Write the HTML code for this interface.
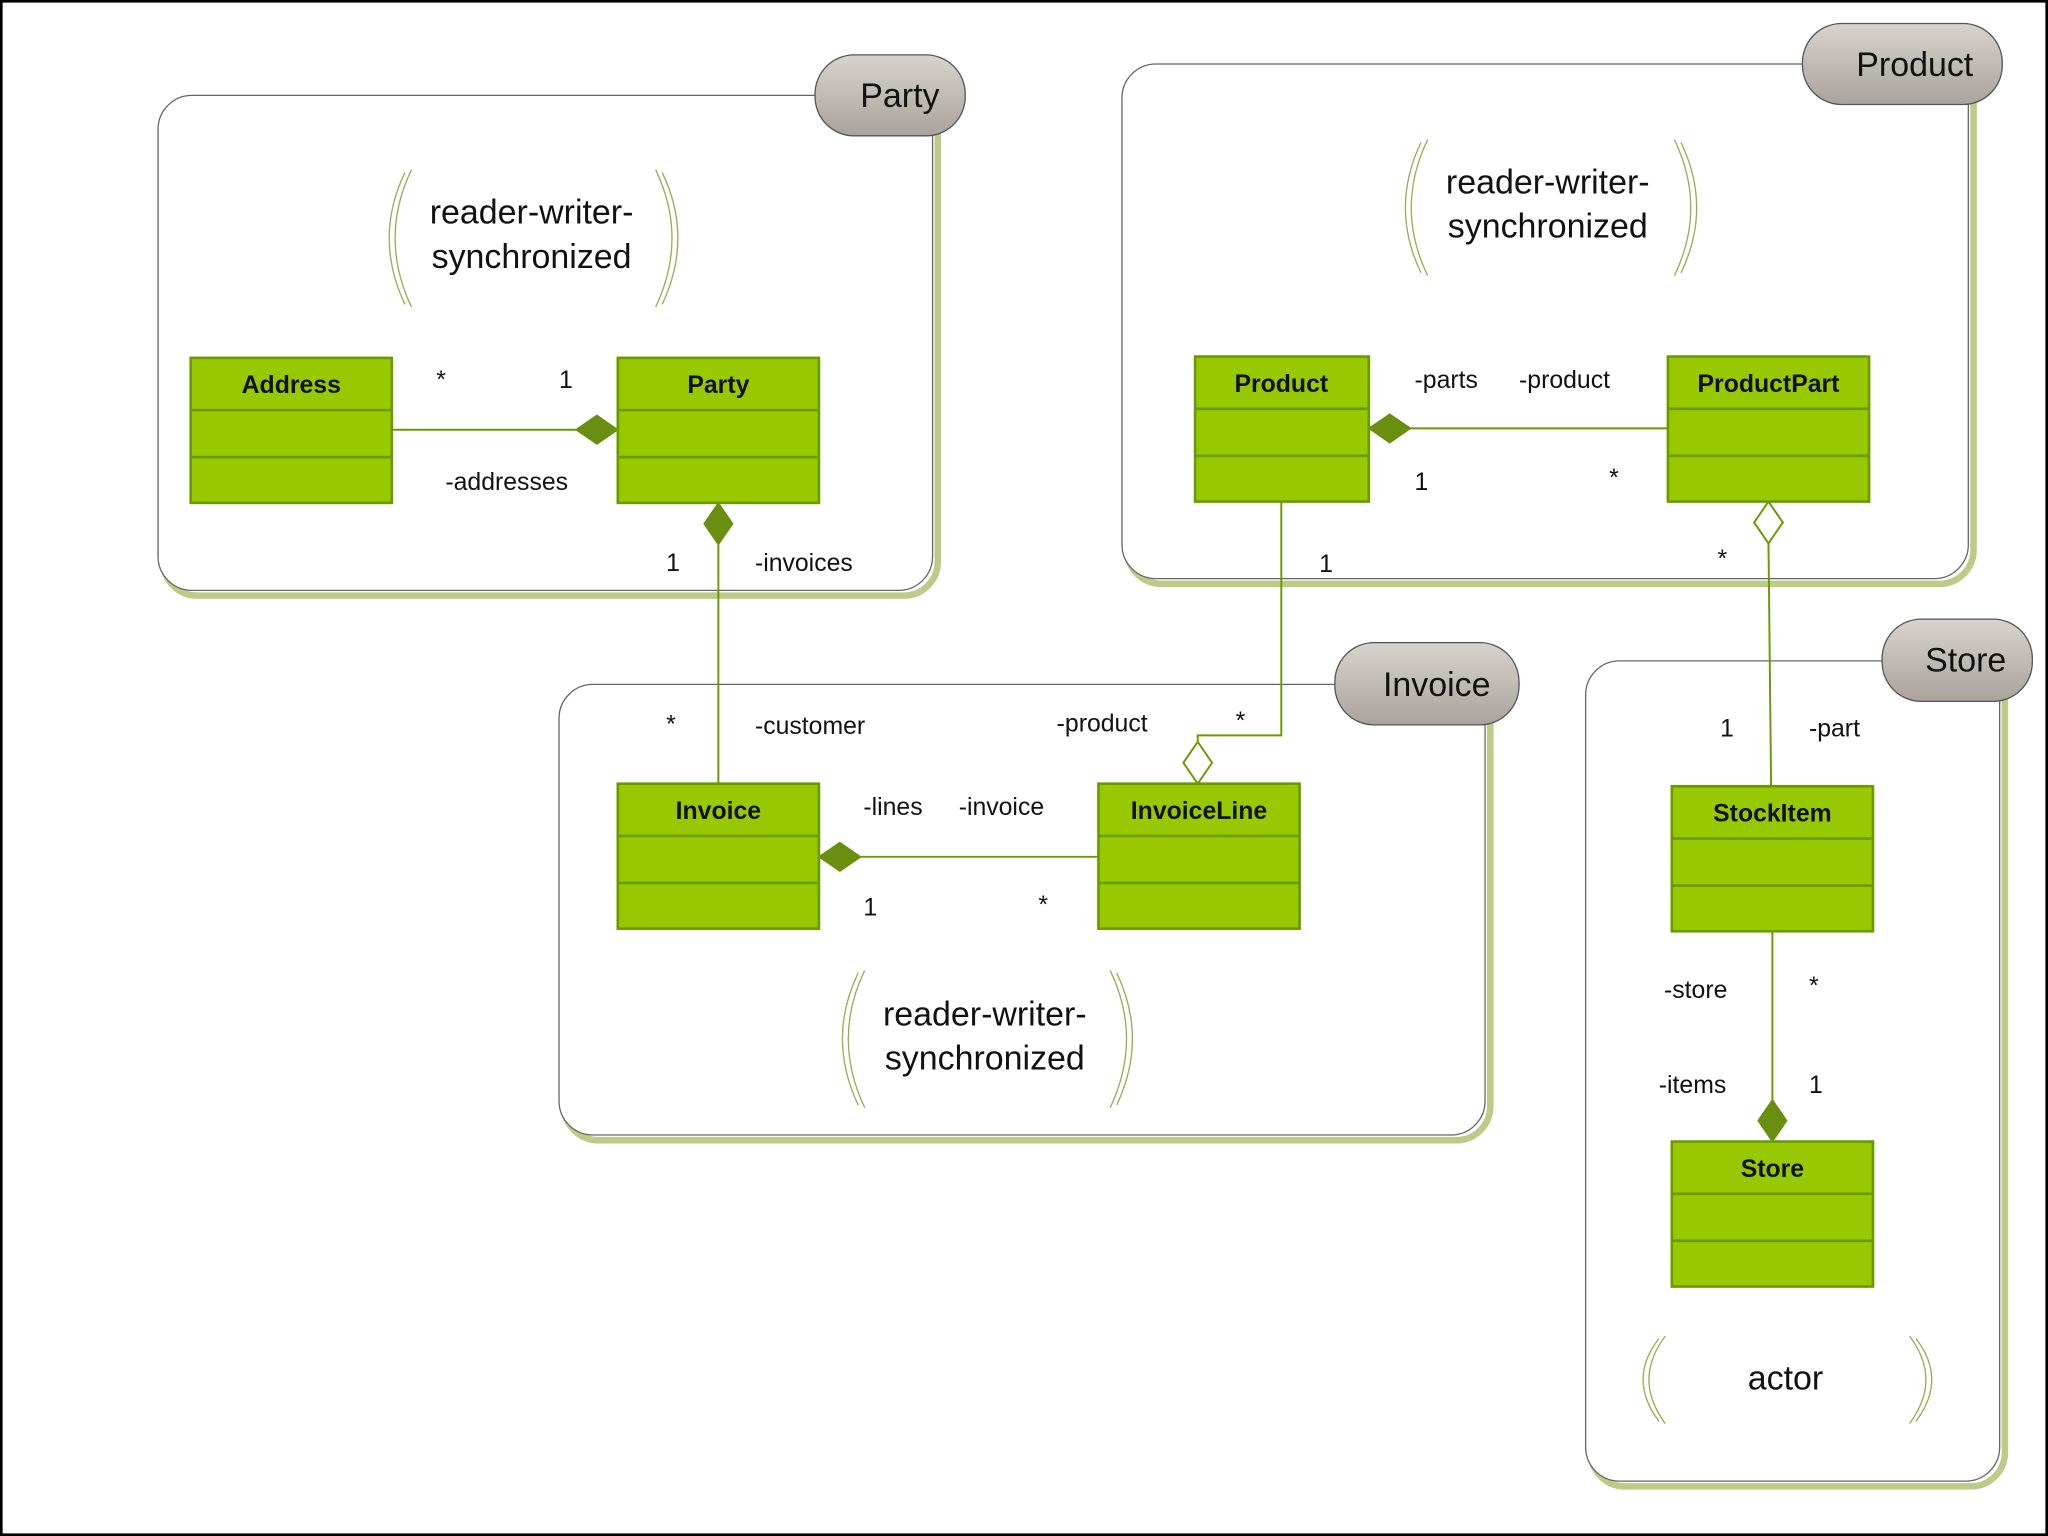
<!DOCTYPE html>
<html><head><meta charset="utf-8"><style>
html,body{margin:0;padding:0;background:#fff}
svg{display:block}
text{font-family:"Liberation Sans",sans-serif}
.lbl{font-size:19px;fill:#111}
.big{font-size:26px;fill:#111}
.cls{font-size:19px;font-weight:bold;fill:#111}
</style></head><body>
<svg width="2048" height="1536" viewBox="0 0 1568 1176" xmlns="http://www.w3.org/2000/svg">
<defs>
<linearGradient id="tg" x1="0" y1="0" x2="0" y2="1"><stop offset="0" stop-color="#d8d3cd"/><stop offset="1" stop-color="#a9a39c"/></linearGradient>
</defs>
<rect x="1" y="1" width="1566" height="1174" fill="#fff" stroke="#000" stroke-width="2"/>

<!-- packages: shadow then frame -->
<g fill="none">
<rect x="125" y="77" width="593" height="379" rx="26" stroke="#bccb86" stroke-width="5"/>
<rect x="121" y="73" width="593" height="379" rx="26" fill="#fff" stroke="#666" stroke-width="1"/>
<rect x="863" y="53" width="648" height="394" rx="26" stroke="#bccb86" stroke-width="5"/>
<rect x="859" y="49" width="648" height="394" rx="26" fill="#fff" stroke="#666" stroke-width="1"/>
<rect x="432" y="528" width="709" height="345" rx="26" stroke="#bccb86" stroke-width="5"/>
<rect x="428" y="524" width="709" height="345" rx="26" fill="#fff" stroke="#666" stroke-width="1"/>
<rect x="1218" y="510" width="317" height="628" rx="26" stroke="#bccb86" stroke-width="5"/>
<rect x="1214" y="506" width="317" height="628" rx="26" fill="#fff" stroke="#666" stroke-width="1"/>
</g>
<!-- tabs -->
<rect x="624" y="42" width="115" height="62" rx="30" fill="url(#tg)" stroke="#555"/>
<text x="689" y="82" class="big" text-anchor="middle">Party</text>
<rect x="1380" y="18" width="153" height="62" rx="30" fill="url(#tg)" stroke="#555"/>
<text x="1466" y="58" class="big" text-anchor="middle">Product</text>
<rect x="1022" y="492" width="141" height="63" rx="30" fill="url(#tg)" stroke="#555"/>
<text x="1100" y="533" class="big" text-anchor="middle">Invoice</text>
<rect x="1441" y="474" width="115" height="63" rx="30" fill="url(#tg)" stroke="#555"/>
<text x="1505" y="514" class="big" text-anchor="middle">Store</text>

<!-- brackets -->
<g fill="none" stroke="#9aaa55" stroke-width="1">
<path d="M315 130 Q290 182 315 235"/><path d="M310 132 Q286 182 310 233"/>
<path d="M502 130 Q527 182 502 235"/><path d="M507 132 Q531 182 507 233"/>
<path d="M1093 107 Q1068 159 1093 211"/><path d="M1088 109 Q1064 159 1088 209"/>
<path d="M1282 107 Q1307 159 1282 211"/><path d="M1287 109 Q1311 159 1287 209"/>
<path d="M662 743 Q637 795 662 848"/><path d="M657 745 Q633 795 657 846"/>
<path d="M850 743 Q875 795 850 848"/><path d="M855 745 Q879 795 855 846"/>
<path d="M1275 1023 Q1250 1056 1275 1090"/><path d="M1270 1025 Q1246 1056 1270 1088"/>
<path d="M1462 1023 Q1487 1056 1462 1090"/><path d="M1467 1025 Q1491 1056 1467 1088"/>
</g>
<text x="407" y="171" class="big" text-anchor="middle">reader-writer-</text>
<text x="407" y="205" class="big" text-anchor="middle">synchronized</text>
<text x="1185" y="148" class="big" text-anchor="middle">reader-writer-</text>
<text x="1185" y="182" class="big" text-anchor="middle">synchronized</text>
<text x="754" y="785" class="big" text-anchor="middle">reader-writer-</text>
<text x="754" y="819" class="big" text-anchor="middle">synchronized</text>
<text x="1367" y="1064" class="big" text-anchor="middle">actor</text>

<!-- connectors -->
<g stroke="#6a9a00" stroke-width="1.5" fill="none">
<line x1="300" y1="329" x2="441" y2="329"/>
<line x1="550" y1="417" x2="550" y2="600"/>
<line x1="1080" y1="328" x2="1277" y2="328"/>
<polyline points="981,384 981,563 917,563 917,568"/>
<line x1="1354" y1="416" x2="1356" y2="602"/>
<line x1="659" y1="656" x2="841" y2="656"/>
<line x1="1357" y1="713" x2="1357" y2="842"/>
</g>
<g fill="#6a8f10" stroke="#6a8f10">
<polygon points="441,329 457,318 473,329 457,340"/>
<polygon points="550,385 561,401 550,417 539,401"/>
<polygon points="1048,328 1064,317 1080,328 1064,339"/>
<polygon points="627,656 643,645 659,656 643,667"/>
<polygon points="1357,842 1368,858 1357,874 1346,858"/>
</g>
<g fill="#fff" stroke="#6a9a00" stroke-width="1.5">
<polygon points="917,568 928,584 917,600 906,584"/>
<polygon points="1354,384 1365,400 1354,416 1343,400"/>
</g>

<!-- classes -->
<g fill="#97c800" stroke="#6a9a00" stroke-width="2">
<rect x="146" y="274" width="154" height="111"/><line x1="146" y1="314" x2="300" y2="314"/><line x1="146" y1="350" x2="300" y2="350"/>
<rect x="473" y="274" width="154" height="111"/><line x1="473" y1="314" x2="627" y2="314"/><line x1="473" y1="350" x2="627" y2="350"/>
<rect x="915" y="273" width="133" height="111"/><line x1="915" y1="313" x2="1048" y2="313"/><line x1="915" y1="349" x2="1048" y2="349"/>
<rect x="1277" y="273" width="154" height="111"/><line x1="1277" y1="313" x2="1431" y2="313"/><line x1="1277" y1="349" x2="1431" y2="349"/>
<rect x="473" y="600" width="154" height="111"/><line x1="473" y1="640" x2="627" y2="640"/><line x1="473" y1="676" x2="627" y2="676"/>
<rect x="841" y="600" width="154" height="111"/><line x1="841" y1="640" x2="995" y2="640"/><line x1="841" y1="676" x2="995" y2="676"/>
<rect x="1280" y="602" width="154" height="111"/><line x1="1280" y1="642" x2="1434" y2="642"/><line x1="1280" y1="678" x2="1434" y2="678"/>
<rect x="1280" y="874" width="154" height="111"/><line x1="1280" y1="914" x2="1434" y2="914"/><line x1="1280" y1="950" x2="1434" y2="950"/>
</g>
<text x="223" y="301" class="cls" text-anchor="middle">Address</text>
<text x="550" y="301" class="cls" text-anchor="middle">Party</text>
<text x="981" y="300" class="cls" text-anchor="middle">Product</text>
<text x="1354" y="300" class="cls" text-anchor="middle">ProductPart</text>
<text x="550" y="627" class="cls" text-anchor="middle">Invoice</text>
<text x="918" y="627" class="cls" text-anchor="middle">InvoiceLine</text>
<text x="1357" y="629" class="cls" text-anchor="middle">StockItem</text>
<text x="1357" y="901" class="cls" text-anchor="middle">Store</text>

<!-- labels -->
<text x="334" y="297" class="lbl">*</text>
<text x="428" y="297" class="lbl">1</text>
<text x="341" y="375" class="lbl">-addresses</text>
<text x="510" y="437" class="lbl">1</text>
<text x="578" y="437" class="lbl">-invoices</text>
<text x="510" y="561" class="lbl">*</text>
<text x="578" y="562" class="lbl">-customer</text>
<text x="1083" y="297" class="lbl">-parts</text>
<text x="1163" y="297" class="lbl">-product</text>
<text x="1083" y="375" class="lbl">1</text>
<text x="1232" y="372" class="lbl">*</text>
<text x="1010" y="438" class="lbl">1</text>
<text x="1315" y="434" class="lbl">*</text>
<text x="809" y="560" class="lbl">-product</text>
<text x="946" y="558" class="lbl">*</text>
<text x="661" y="624" class="lbl">-lines</text>
<text x="734" y="624" class="lbl">-invoice</text>
<text x="661" y="701" class="lbl">1</text>
<text x="795" y="699" class="lbl">*</text>
<text x="1317" y="564" class="lbl">1</text>
<text x="1385" y="564" class="lbl">-part</text>
<text x="1274" y="764" class="lbl">-store</text>
<text x="1385" y="761" class="lbl">*</text>
<text x="1270" y="837" class="lbl">-items</text>
<text x="1385" y="837" class="lbl">1</text>
</svg>
</body></html>
